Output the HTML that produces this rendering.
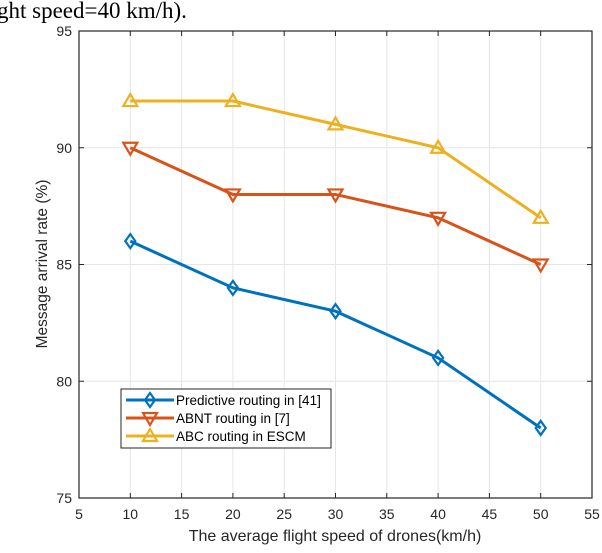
<!DOCTYPE html>
<html><head><meta charset="utf-8"><style>
body{margin:0;background:#fff;width:602px;height:548px;overflow:hidden}
svg{font-family:"Liberation Sans",sans-serif}
</style></head><body>
<svg width="602" height="548">
<text x="-3" y="18" font-family="Liberation Serif" font-size="23" fill="#000">ght speed=40 km/h).</text>
<g id="grid"></g>
<g id="axes"></g>
<g id="series"></g>
<text x="335" y="541" text-anchor="middle" font-size="16" fill="#262626">The average flight speed of drones(km/h)</text>
<text transform="translate(47,264) rotate(-90)" text-anchor="middle" font-size="15.5" fill="#262626">Message arrival rate (%)</text>
<g>
<rect x="121" y="389" width="210" height="59" fill="#fff" stroke="#262626" stroke-width="1"/>
<g id="legend"></g>
</g>
</svg>
<script>
const categories=[10,20,30,40,50];
const predictive=[86,84,83,81,78];
const abnt=[90,88,88,87,85];
const abc=[92,92,91,90,87];
const xTicks=[5,10,15,20,25,30,35,40,45,50,55];
const yTicks=[75,80,85,90,95];
const names=["Predictive routing in [41]","ABNT routing in [7]","ABC routing in ESCM"];
const L=79,R=592,T=31,B=498;
const xs=v=>L+(v-5)/50*(R-L);
const ys=v=>B-(v-75)/20*(B-T);
const NS="http://www.w3.org/2000/svg";
function mk(p,t,a){const e=document.createElementNS(NS,t);for(const k in a)e.setAttribute(k,a[k]);p.appendChild(e);return e;}
const g=document.getElementById('grid'),ax=document.getElementById('axes'),s=document.getElementById('series');
xTicks.forEach(v=>{const l=mk(g,'line',{x1:xs(v),x2:xs(v),y1:T,y2:B,stroke:'#e6e6e6'});

mk(ax,'line',{x1:xs(v),x2:xs(v),y1:B,y2:B-5,stroke:'#262626'});mk(ax,'line',{x1:xs(v),x2:xs(v),y1:T,y2:T+5,stroke:'#262626'});
const t=mk(ax,'text',{x:xs(v),y:B+21,'text-anchor':'middle','font-size':14,fill:'#262626'});t.textContent=v;
});
yTicks.forEach(v=>{const l=mk(g,'line',{x1:L,x2:R,y1:ys(v),y2:ys(v),stroke:'#e6e6e6'});

mk(ax,'line',{x1:L,x2:L+5,y1:ys(v),y2:ys(v),stroke:'#262626'});mk(ax,'line',{x1:R,x2:R-5,y1:ys(v),y2:ys(v),stroke:'#262626'});
const t=mk(ax,'text',{x:L-7,y:ys(v)+5,'text-anchor':'end','font-size':14,fill:'#262626'});t.textContent=v;
});
mk(ax,'rect',{x:L,y:T,width:R-L,height:B-T,fill:'none',stroke:'#262626','stroke-width':1.2});
const colors=['#0072BD','#D95319','#EDB120'];
function marker(p,type,x,y,c){
 let pts;
 if(type==0)pts=[[x,y-7],[x+5,y],[x,y+7],[x-5,y]];
 else if(type==1)pts=[[x-7,y-5],[x+7,y-5],[x,y+7]];
 else pts=[[x-7,y+5],[x+7,y+5],[x,y-7]];
 const m=mk(p,'polygon',{points:pts.map(q=>q.join(',')).join(' '),fill:'none',stroke:c,'stroke-width':2.2});
 
}
[predictive,abnt,abc].forEach((d,i)=>{
 const pl=mk(s,'polyline',{points:d.map((v,j)=>xs(categories[j])+','+ys(v)).join(' '),fill:'none',stroke:colors[i],'stroke-width':3});
 
 d.forEach((v,j)=>marker(s,i,xs(categories[j]),ys(v),colors[i]));
});
const lg=document.getElementById('legend');
names.forEach((n,i)=>{const y=400+i*18;
 mk(lg,'line',{x1:126,x2:174,y1:y,y2:y,stroke:colors[i],'stroke-width':3});
 marker(lg,i,150,y,colors[i]);
 const t=mk(lg,'text',{x:176,y:y+5,'font-size':13.5,fill:'#000'});t.textContent=n;
 });
</script>
</body></html>
